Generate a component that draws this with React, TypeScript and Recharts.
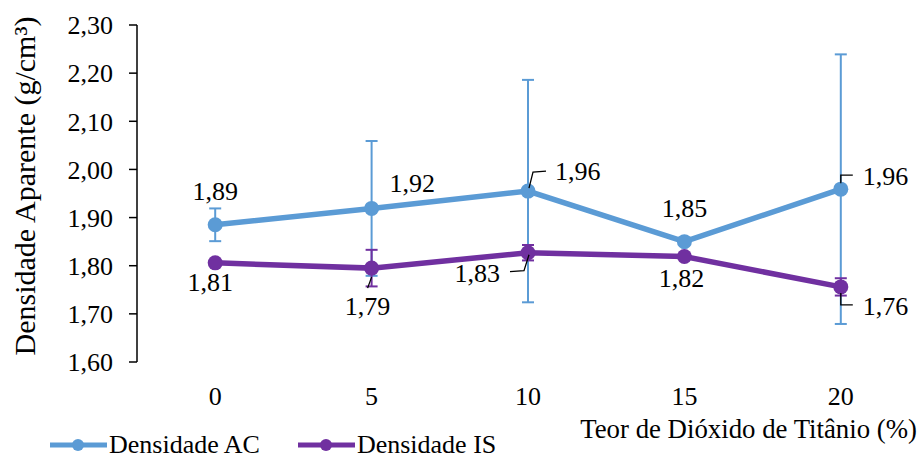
import { CartesianGrid, ErrorBar, LabelList, Legend, Line, LineChart, XAxis, YAxis } from 'recharts';

const teor = [0, 5, 10, 15, 20];
const densAC = [1.885, 1.919, 1.955, 1.85, 1.959];
const erroAC = [0.034, 0.14, 0.231, 0, 0.28];
const densIS = [1.806, 1.795, 1.827, 1.819, 1.756];
const erroIS = [0, 0.038, 0.016, 0, 0.018];
const yTicks = [1.6, 1.7, 1.8, 1.9, 2.0, 2.1, 2.2, 2.3];
const xBoundaries = [-2.5, 2.5, 7.5, 12.5, 17.5, 22.5];

const AC_COLOR = '#5B9BD5';
const IS_COLOR = '#7030A0';
const FONT = '"Liberation Serif", "Times New Roman", serif';
const FS = 26;

// label placement per point (layout only)
type Place = { dx: number; dy: number; anchor: 'start' | 'middle' | 'end'; leader?: number[][] };
const acPlaces: Place[] = [
  { dx: 0, dy: -25, anchor: 'middle' },
  { dx: 18, dy: -16, anchor: 'start' },
  { dx: 27, dy: -11, anchor: 'start', leader: [[1, -3], [5, -19], [18, -20]] },
  { dx: 0, dy: -25, anchor: 'middle' },
  { dx: 22, dy: -4, anchor: 'start', leader: [[0, -6], [0, -14], [12, -14]] },
];
const isPlaces: Place[] = [
  { dx: -5, dy: 28, anchor: 'middle' },
  { dx: -4, dy: 47, anchor: 'middle', leader: [[-4, 20], [0, 9]] },
  { dx: -28, dy: 29, anchor: 'end', leader: [[1, 2], [-4, 18], [-18, 19]] },
  { dx: -3, dy: 30, anchor: 'middle' },
  { dx: 22, dy: 28, anchor: 'start', leader: [[0, 6], [0, 18], [12, 18]] },
];

const data = teor.map((t, i) => ({
  teor: t,
  ac: densAC[i],
  acErr: erroAC[i],
  is: densIS[i],
  isErr: erroIS[i],
}));

const fmt = (v: number) => v.toFixed(2).replace('.', ',');

function makeLabel(places: Place[]) {
  return (props: any) => {
    const { x, y, value, index } = props;
    const p = places[index];
    if (!p) return null;
    const leader = p.leader
      ? 'M' + p.leader.map(([a, b]) => `${x + a},${y + b}`).join(' L')
      : null;
    return (
      <g>
        {leader && <path d={leader} fill="none" stroke="#000" strokeWidth={1.3} />}
        <text x={x + p.dx} y={y + p.dy} textAnchor={p.anchor} fontSize={FS} fontFamily={FONT} fill="#000">
          {fmt(value)}
        </text>
      </g>
    );
  };
}

function LegendContent() {
  const items = [
    { name: 'Densidade AC', color: AC_COLOR },
    { name: 'Densidade IS', color: IS_COLOR },
  ];
  return (
    <div style={{ display: 'flex', fontFamily: FONT, fontSize: FS, lineHeight: '24px', color: '#000' }}>
      {items.map((it) => (
        <div key={it.name} style={{ display: 'flex', alignItems: 'center', marginRight: 38 }}>
          <svg width={57} height={16} style={{ marginRight: 2 }}>
            <line x1={0} y1={8} x2={57} y2={8} stroke={it.color} strokeWidth={5} strokeLinecap="round" />
            <circle cx={28} cy={8} r={6} fill={it.color} />
          </svg>
          <span>{it.name}</span>
        </div>
      ))}
    </div>
  );
}

export default function App() {
  return (
    <div style={{ position: 'absolute', left: 0, top: 0, background: '#fff' }}>
      <LineChart width={919} height={458} data={data} margin={{ top: 25, right: 0, left: 0, bottom: 0 }}>
        <CartesianGrid stroke="none" />
        <XAxis
          xAxisId="grid"
          type="number"
          dataKey="teor"
          domain={[-2.5, 22.5]}
          ticks={xBoundaries}
          allowDataOverflow
          height={0}
          tick={false}
          tickSize={8}
          stroke="#000"
          strokeWidth={1.5}
        />
        <XAxis
          xAxisId="main"
          type="number"
          dataKey="teor"
          domain={[-2.5, 22.5]}
          ticks={teor}
          allowDataOverflow
          height={96}
          axisLine={false}
          tickLine={false}
          tickSize={8}
          tickMargin={17}
          tick={{ fontSize: FS, fontFamily: FONT, fill: '#000' }}
          label={{
            content: () => (
              <text x={917} y={438} textAnchor="end" fontSize={26.8} fontFamily={FONT} fill="#000">
                Teor de Dióxido de Titânio (%)
              </text>
            ),
          }}
        />
        <YAxis
          width={137}
          domain={[1.6, 2.3]}
          ticks={yTicks}
          tickFormatter={fmt}
          tickSize={8}
          tickMargin={16}
          stroke="#000"
          strokeWidth={1.5}
          tick={{ fontSize: FS, fontFamily: FONT, fill: '#000' }}
          label={{
            content: () => (
              <text
                transform="translate(35,186) rotate(-90)"
                textAnchor="middle"
                fontSize={30}
                fontFamily={FONT}
                fill="#000"
              >
                Densidade Aparente (g/cm³)
              </text>
            ),
          }}
        />
        <Legend
          layout="horizontal"
          verticalAlign="middle"
          align="center"
          content={<LegendContent />}
          wrapperStyle={{ left: 50, top: 433, width: 520, height: 24 }}
        />
        <Line
          xAxisId="main"
          dataKey="ac"
          name="Densidade AC"
          stroke={AC_COLOR}
          strokeWidth={5.5}
          dot={{ r: 7.5, fill: AC_COLOR, stroke: AC_COLOR, strokeWidth: 0 }}
          isAnimationActive={false}
        >
          <ErrorBar dataKey="acErr" width={6} stroke={AC_COLOR} strokeWidth={2} direction="y" />
          <LabelList dataKey="ac" content={makeLabel(acPlaces)} />
        </Line>
        <Line
          xAxisId="main"
          dataKey="is"
          name="Densidade IS"
          stroke={IS_COLOR}
          strokeWidth={5.5}
          dot={{ r: 7.5, fill: IS_COLOR, stroke: IS_COLOR, strokeWidth: 0 }}
          isAnimationActive={false}
        >
          <ErrorBar dataKey="isErr" width={6} stroke={IS_COLOR} strokeWidth={2} direction="y" />
          <LabelList dataKey="is" content={makeLabel(isPlaces)} />
        </Line>
      </LineChart>
    </div>
  );
}
